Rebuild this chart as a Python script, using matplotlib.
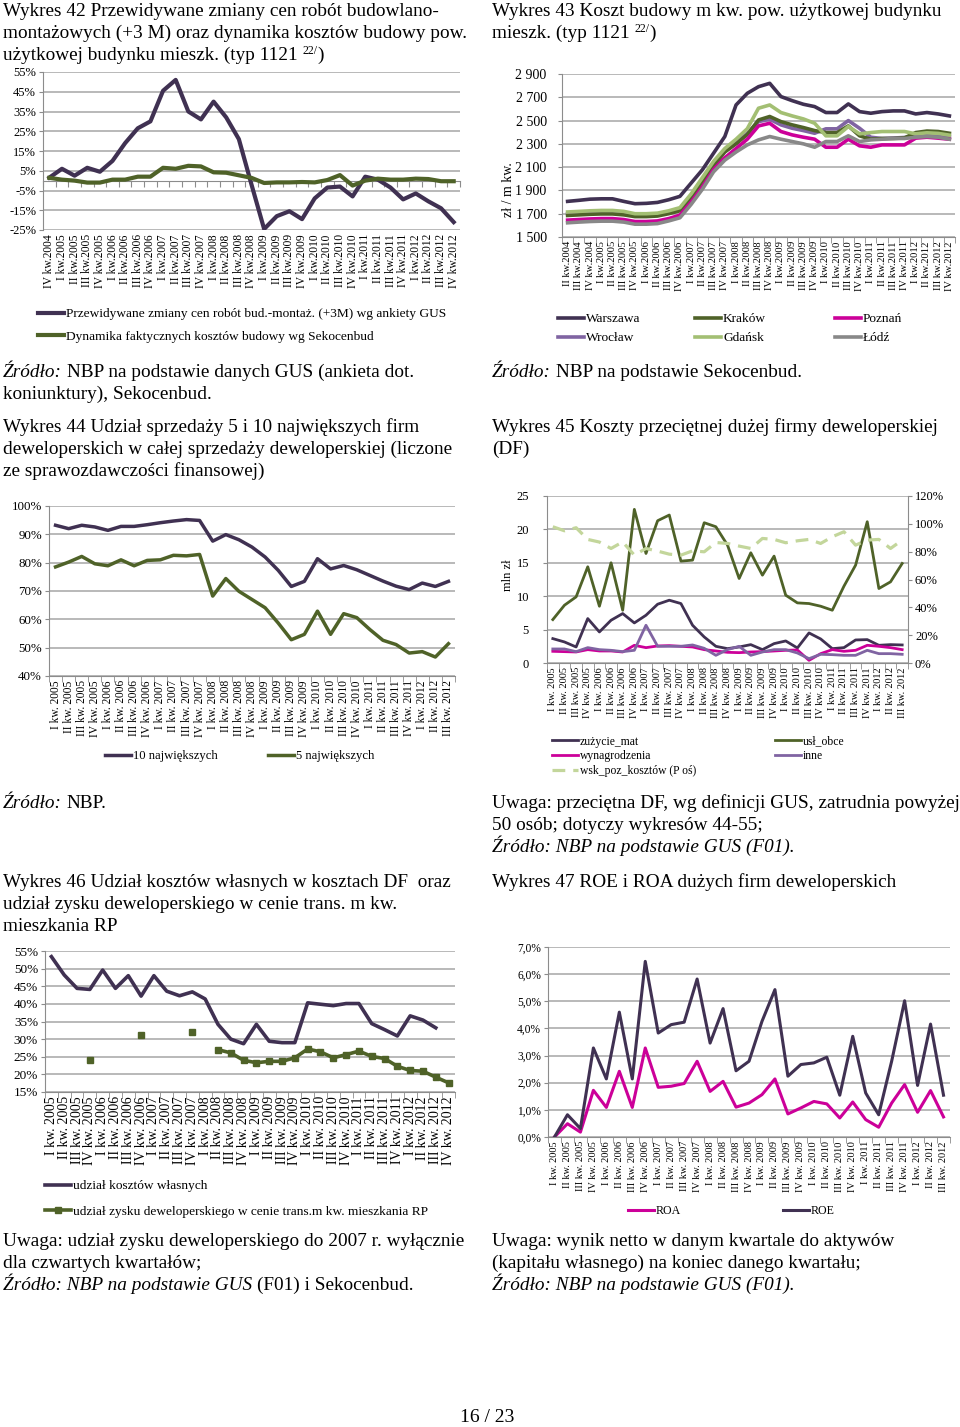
import numpy as np
import matplotlib
matplotlib.use('Agg')
import matplotlib.pyplot as plt
from matplotlib.ticker import FuncFormatter

plt.rcParams['font.family'] = ['Liberation Serif', 'DejaVu Serif']

W, H = 960, 1427

# ---------------- category labels ----------------
ROMAN = ['I', 'II', 'III', 'IV']


def quarters(q0, y0, q1, y1, sep):
    out = []
    y, q = y0, q0
    while (y, q) <= (y1, q1):
        out.append(f"{ROMAN[q - 1]} kw.{sep}{y}")
        q += 1
        if q > 4:
            q, y = 1, y + 1
    return out


cats42 = quarters(4, 2004, 4, 2012, '')
cats43 = quarters(2, 2004, 4, 2012, '')
cats44 = quarters(1, 2005, 3, 2012, ' ')
cats45 = quarters(1, 2005, 3, 2012, ' ')
cats46 = quarters(1, 2005, 4, 2012, ' ')
cats47 = quarters(1, 2005, 3, 2012, ' ')

# ---------------- data ----------------
# Wykres 42 (%)
gus_expected = [1.5, 6, 2.5, 6.5, 4.5, 10, 19, 26.5, 30, 45.5, 51, 35, 31, 40, 32, 21, -2,
                -24.5, -18, -15.5, -19.5, -9, -3.5, -3, -8, 2, 0.5, -3.5, -9.5, -6.5, -10.5, -14, -21]
sekocenbud_dyn = [1.4, 0.5, 0, -1, -1, 0.5, 0.5, 2, 2, 6.5, 6, 7.5, 7.2, 4.2, 4, 2.7, 1.4,
                  -1.2, -0.9, -0.9, -0.7, -0.9, 0.3, 2.8, -2.5, 0, 1, 0.5, 0.5, 1, 0.8, -0.3, -0.3]

# Wykres 43 (zł / m kw.)
warszawa = [1806, 1815, 1825, 1828, 1828, 1806, 1786, 1789, 1797, 1820, 1849, 1963, 2077, 2220, 2363,
            2634, 2734, 2791, 2820, 2706, 2671, 2640, 2620, 2569, 2569, 2643, 2577, 2563, 2577, 2583,
            2583, 2557, 2569, 2557, 2540]
krakow = [1685, 1690, 1695, 1698, 1698, 1690, 1675, 1675, 1680, 1700, 1725, 1840, 1975, 2110, 2230,
          2300, 2380, 2505, 2535, 2491, 2463, 2440, 2414, 2397, 2397, 2454, 2369, 2340, 2346, 2346,
          2351, 2397, 2410, 2406, 2391]
poznan = [1645, 1650, 1655, 1658, 1658, 1650, 1633, 1633, 1638, 1658, 1688, 1800, 1930, 2080, 2180,
          2260, 2340, 2454, 2477, 2406, 2377, 2357, 2340, 2271, 2271, 2340, 2283, 2271, 2291, 2291,
          2291, 2349, 2357, 2349, 2340]
wroclaw = [1700, 1705, 1710, 1712, 1712, 1705, 1688, 1688, 1693, 1712, 1738, 1845, 1980, 2115, 2235,
           2310, 2390, 2491, 2511, 2463, 2434, 2414, 2391, 2429, 2429, 2500, 2434, 2357, 2346, 2350,
           2355, 2365, 2370, 2368, 2360]
gdansk = [1715, 1720, 1725, 1728, 1728, 1720, 1700, 1700, 1705, 1725, 1752, 1870, 2010, 2150, 2260,
          2340, 2430, 2606, 2634, 2569, 2540, 2514, 2477, 2369, 2369, 2449, 2386, 2397, 2406, 2406,
          2406, 2386, 2395, 2390, 2375]
lodz = [1622, 1628, 1633, 1636, 1636, 1628, 1610, 1610, 1615, 1638, 1665, 1780, 1910, 2060, 2160,
        2230, 2291, 2334, 2363, 2340, 2320, 2300, 2271, 2320, 2320, 2369, 2320, 2334, 2340, 2346,
        2346, 2357, 2363, 2357, 2340]

# Wykres 44 (%)
top10 = [93.2, 92, 93.2, 92.6, 91.4, 92.8, 92.8, 93.4, 94.1, 94.7, 95.2, 94.9, 87.6, 89.9, 88.1, 85.5,
         82, 77.3, 71.6, 73.4, 81.4, 77.8, 79, 77.5, 75.5, 73.5, 71.7, 70.5, 72.8, 71.6, 73.4]
top5 = [78.5, 80.2, 82.2, 79.6, 78.9, 81, 78.9, 80.8, 81, 82.6, 82.4, 82.9, 68.2, 74.4, 69.9, 67,
        64.1, 58.7, 52.8, 54.7, 62.9, 54.7, 62, 60.6, 56.4, 52.6, 51.1, 48.1, 48.6, 46.7, 51.4]

# Wykres 45 (mln zł, right axis %)
zuzycie_mat = [3.65, 3.15, 2.4, 6.65, 4.65, 6.4, 7.4, 6, 7.15, 8.8, 9.4, 8.9, 5.65, 3.9, 2.5, 2.15,
               2.4, 2.75, 2.0, 2.9, 3.3, 2.25, 4.5, 3.6, 2.15, 2.3, 3.45, 3.5, 2.65, 2.75, 2.7]
usl_obce = [6.5, 8.65, 9.9, 14.4, 8.5, 15, 7.9, 23, 16.4, 21.3, 22.15, 15.25, 15.4, 21, 20.4, 17.65,
            12.65, 16.5, 13.15, 16, 10.15, 9, 8.9, 8.5, 7.9, 11.5, 14.65, 21.15, 11.15, 12.15, 14.9]
wynagrodzenia = [1.75, 1.7, 1.65, 2.0, 1.8, 1.8, 1.65, 2.65, 2.3, 2.55, 2.6, 2.5, 2.4, 2.0, 1.8, 1.6,
                 1.55, 1.65, 1.7, 1.8, 1.9, 1.95, 0.4, 1.4, 2.0, 1.75, 1.9, 2.65, 2.5, 2.3, 2.0]
inne = [2.1, 2.1, 1.7, 2.3, 2.0, 1.9, 1.7, 1.9, 5.65, 2.5, 2.5, 2.5, 2.7, 2.2, 1.15, 2.0, 2.5, 1.15,
        1.65, 2.0, 2.0, 1.5, 0.65, 1.3, 1.25, 1.15, 1.15, 1.9, 1.4, 1.4, 1.3]
wsk_poz_kosztow = [97.9, 95, 97.2, 88.8, 86.9, 82.3, 87, 77.5, 82.3, 80.4, 78.2, 77.5, 80.6, 79.9,
                   86.6, 85.9, 84, 82.3, 89.5, 88.8, 86.4, 87.8, 88.8, 85.9, 90.7, 94.3, 84.7, 88.3,
                   88.8, 82.3, 88.3]

# Wykres 46 (%)
NA = np.nan
koszty_wlasne = [53.4, 48.2, 44.4, 44.1, 49.6, 44.4, 48, 42.2, 48, 43.6, 42.3, 43.4, 41.4, 34.2, 30,
                 28.7, 34.2, 29.4, 29, 29, 40.3, 39.9, 39.5, 40.1, 40.1, 34.4, 32.7, 30.9, 36.6, 35.4,
                 33.2, NA]
zysk_dewel = [NA, NA, NA, 24, NA, NA, NA, 31.1, NA, NA, NA, 32.1, NA, 27, 26.1, 24, 23.3, 23.7,
              23.7, 24.7, 27.2, 26.4, 24.7, 25.6, 26.6, 25.1, 24.5, 22.3, 21.1, 20.9, 19.2, 17.6]

# Wykres 47 (%)
roe = [0, 0.82, 0.31, 3.28, 2.14, 4.6, 2.14, 6.47, 3.83, 4.14, 4.23, 5.82, 3.46, 4.73, 2.44, 2.79,
       4.26, 5.43, 2.24, 2.67, 2.73, 2.94, 1.54, 3.71, 1.62, 0.82, 2.79, 5.02, 1.9, 4.16, 1.54]
roa = [0, 0.49, 0.18, 1.72, 1.09, 2.42, 1.09, 3.28, 1.83, 1.87, 1.97, 2.79, 1.68, 2.05, 1.1, 1.25,
       1.56, 2.14, 0.85, 1.07, 1.31, 1.22, 0.7, 1.29, 0.64, 0.36, 1.25, 1.93, 0.91, 1.71, 0.74]

# ---------------- style ----------------
PURPLE = '#403152'
GREEN = '#4F6228'
MAGENTA = '#CC0099'
LAVENDER = '#8064A2'
LIGHTGREEN = '#A3BF73'
GRAYL = '#888888'
DASHC = '#C3D69B'
GRID = '#A6A6A6'
AXC = '#8C8C8C'

fig = plt.figure(figsize=(W / 100, H / 100), dpi=100)
fig.patch.set_facecolor('white')
renderer = fig.canvas.get_renderer()


def add_ax(x0, y0, x1, y1):
    return fig.add_axes([x0 / W, 1 - y1 / H, (x1 - x0) / W, (y1 - y0) / H])


def style_ax(ax, cats, xfs, yfs, bottom=True):
    n = len(cats)
    ax.set_xlim(-0.5, n - 0.5)
    ax.set_xticks(np.arange(n))
    ax.set_xticklabels(cats, rotation=90, fontsize=xfs)
    ax.set_xticks(np.arange(-0.5, n, 1), minor=True)
    ax.tick_params(axis='x', which='major', length=0, pad=3)
    ax.tick_params(axis='x', which='minor', length=4 if bottom else 0, color=AXC)
    ax.tick_params(axis='y', length=3, color=AXC, labelsize=yfs, pad=2)
    ax.grid(axis='y', color=GRID, lw=1.1)
    ax.set_axisbelow(True)
    for s in ['top', 'right']:
        ax.spines[s].set_visible(False)
    ax.spines['left'].set_color(AXC)
    ax.spines['bottom'].set_color(AXC)
    if not bottom:
        ax.spines['bottom'].set_visible(False)
    ax.set_facecolor('none')


def text_w(s, fs, style='normal'):
    t = fig.text(0, 0, s, fontsize=fs, style=style)
    w = t.get_window_extent(renderer).width
    t.remove()
    return w


def rich(x, yb, parts, fs):
    """parts: (text, style, size, raise_px); yb = baseline in px from top"""
    sp = text_w('a a', fs) - text_w('aa', fs)
    for p in parts:
        s = p[0]
        st = p[1] if len(p) > 1 else 'normal'
        sz = p[2] if len(p) > 2 else fs
        dy = p[3] if len(p) > 3 else 0
        lead = len(s) - len(s.lstrip(' '))
        trail = len(s) - len(s.rstrip(' '))
        x += lead * sp
        core = s.strip(' ')
        t = fig.text(x / W, 1 - (yb - dy) / H, core, fontsize=sz, style=st,
                     va='baseline', ha='left')
        x += t.get_window_extent(renderer).width + trail * sp


def legend_at(handles, labels, x, ytop, fs, hl_px=26, lsp=0.4):
    fs_px = fs * 100 / 72
    fig.legend(handles, labels, loc='upper left', bbox_to_anchor=(x / W, 1 - ytop / H),
               frameon=False, fontsize=fs, borderpad=0, borderaxespad=0,
               handlelength=hl_px / fs_px, handletextpad=0.15, labelspacing=lsp)


TFS = 13.9  # body text size

# ================= Wykres 42 =================
rich(3, 16, [('Wykres 42 Przewidywane zmiany cen robót budowlano-',)], TFS)
rich(3, 38, [('montażowych (+3 M) oraz dynamika kosztów budowy pow.',)], TFS)
rich(3, 60, [('użytkowej budynku mieszk. (typ 1121 ',), ('22/', 'normal', 8.5, 6), (')',)], TFS)

ax = add_ax(43, 72, 460, 230)
x = np.arange(len(cats42))
l42a, = ax.plot(x, gus_expected, color=PURPLE, lw=3, solid_joinstyle='round')
l42b, = ax.plot(x, sekocenbud_dyn, color=GREEN, lw=3, solid_joinstyle='round')
style_ax(ax, cats42, 8.3, 9, bottom=False)
ax.set_ylim(-25, 55)
ax.set_yticks(np.arange(-25, 56, 10))
ax.yaxis.set_major_formatter(FuncFormatter(lambda v, p: f"{v:.0f}%"))
sec = ax.secondary_xaxis((0 - (-25)) / 80.0)
sec.set_xticks(np.arange(-0.5, len(cats42), 1))
sec.set_xticklabels([])
sec.tick_params(length=4, color=AXC)
for s in sec.spines.values():
    s.set_color(AXC)
legend_at([l42a, l42b],
          ['Przewidywane zmiany cen robót bud.-montaż. (+3M) wg ankiety GUS',
           'Dynamika faktycznych kosztów budowy wg Sekocenbud'], 38, 308, 9.6, lsp=0.75)

rich(3, 377, [('Źródło:', 'italic'), (' NBP na podstawie danych GUS (ankieta dot.',)], TFS)
rich(3, 399, [('koniunktury), Sekocenbud.',)], TFS)

# ================= Wykres 43 =================
rich(492, 16, [('Wykres 43 Koszt budowy m kw. pow. użytkowej budynku',)], TFS)
rich(492, 38, [('mieszk. (typ 1121 ',), ('22/', 'normal', 8.5, 6), (')',)], TFS)

ax = add_ax(562, 74, 955, 237)
x = np.arange(len(cats43))
kw = dict(lw=2.6, solid_joinstyle='round')
lw_, = ax.plot(x, warszawa, color=PURPLE, **kw)
lwr, = ax.plot(x, wroclaw, color=LAVENDER, **kw)
lkr, = ax.plot(x, krakow, color=GREEN, **kw)
lgd, = ax.plot(x, gdansk, color=LIGHTGREEN, **kw)
lpz, = ax.plot(x, poznan, color=MAGENTA, **kw)
llo, = ax.plot(x, lodz, color=GRAYL, **kw)
style_ax(ax, cats43, 7.6, 10)
ax.set_ylim(1500, 2900)
ax.set_yticks(np.arange(1500, 2901, 200))
ax.yaxis.set_major_formatter(FuncFormatter(lambda v, p: f"{int(v) // 1000} {int(v) % 1000:03d}"))
ax.tick_params(axis='y', pad=8)
fig.text(508 / W, 1 - 190 / H, 'zł / m kw.', rotation=90, fontsize=10, ha='center', va='center')
legend_at([lw_, lwr], ['Warszawa', 'Wrocław'], 558, 313, 9.6, lsp=0.5)
legend_at([lkr, lgd], ['Kraków', 'Gdańsk'], 695, 313, 9.6, lsp=0.5)
legend_at([lpz, llo], ['Poznań', 'Łódź'], 835, 313, 9.6, lsp=0.5)

rich(492, 377, [('Źródło:', 'italic'), (' NBP na podstawie Sekocenbud.',)], TFS)

# ================= Wykres 44 =================
rich(3, 432, [('Wykres 44 Udział sprzedaży 5 i 10 największych firm',)], TFS)
rich(3, 454, [('deweloperskich w całej sprzedaży deweloperskiej (liczone',)], TFS)
rich(3, 476, [('ze sprawozdawczości finansowej)',)], TFS)

ax = add_ax(49, 506, 455, 676)
x = np.arange(len(cats44))
l44a, = ax.plot(x, top10, color=PURPLE, lw=2.5, solid_joinstyle='round')
l44b, = ax.plot(x, top5, color=GREEN, lw=2.5, solid_joinstyle='round')
style_ax(ax, cats44, 8.3, 9.3)
ax.set_ylim(40, 100)
ax.set_yticks(np.arange(40, 101, 10))
ax.yaxis.set_major_formatter(FuncFormatter(lambda v, p: f"{v:.0f}%"))
legend_at([l44a], ['10 największych'], 105, 750, 9.1)
legend_at([l44b], ['5 największych'], 268, 750, 9.1)

rich(3, 808, [('Źródło:', 'italic'), (' NBP.',)], TFS)

# ================= Wykres 45 =================
rich(492, 432, [('Wykres 45 Koszty przeciętnej dużej firmy deweloperskiej',)], TFS)
rich(492, 454, [('(DF)',)], TFS)

ax = add_ax(547, 496, 908, 663)
x = np.arange(len(cats45))
kw = dict(lw=2.0, solid_joinstyle='round')
l45u, = ax.plot(x, usl_obce, color=GREEN, **kw)
l45z, = ax.plot(x, zuzycie_mat, color=PURPLE, **kw)
l45w, = ax.plot(x, wynagrodzenia, color=MAGENTA, **kw)
l45i, = ax.plot(x, inne, color=LAVENDER, **kw)
style_ax(ax, cats45, 7.4, 9)
ax.set_ylim(0, 25)
ax.set_yticks(np.arange(0, 26, 5))
ax.tick_params(axis='y', pad=10)
ax2 = ax.twinx()
l45k, = ax2.plot(x, np.array(wsk_poz_kosztow) / 100, color=DASHC, lw=2.3, ls=(0, (4, 2.5)))
ax2.set_ylim(0, 1.2)
ax2.set_yticks(np.arange(0, 1.21, 0.2))
ax2.yaxis.set_major_formatter(FuncFormatter(lambda v, p: f"{v * 100:.0f}%"))
ax2.tick_params(axis='y', length=3, color=AXC, labelsize=9, pad=2)
for s in ['top', 'left', 'bottom']:
    ax2.spines[s].set_visible(False)
ax2.spines['right'].set_color(AXC)
fig.text(508 / W, 1 - 575 / H, 'mln zł', rotation=90, fontsize=9, ha='center', va='center')
legend_at([l45z, l45w, l45k], ['zużycie_mat', 'wynagrodzenia', 'wsk_poz_kosztów (P oś)'],
          552, 735.5, 8.4, lsp=0.22)
legend_at([l45u, l45i], ['usł_obce', 'inne'], 775, 735.5, 8.4, lsp=0.22)

rich(492, 808, [('Uwaga: przeciętna DF, wg definicji GUS, zatrudnia powyżej',)], TFS)
rich(492, 830, [('50 osób; dotyczy wykresów 44-55;',)], TFS)
rich(492, 852, [('Źródło: NBP na podstawie GUS (F01).', 'italic')], TFS)

# ================= Wykres 46 =================
rich(3, 887, [('Wykres 46 Udział kosztów własnych w kosztach DF  oraz',)], TFS)
rich(3, 909, [('udział zysku deweloperskiego w cenie trans. m kw.',)], TFS)
rich(3, 931, [('mieszkania RP',)], TFS)

ax = add_ax(45, 951, 455, 1092)
x = np.arange(len(cats46))
l46a, = ax.plot(x, koszty_wlasne, color=PURPLE, lw=2.6, solid_joinstyle='round')
l46b, = ax.plot(x, zysk_dewel, color=GREEN, lw=2.6, marker='s', ms=4.5, solid_joinstyle='round')
style_ax(ax, cats46, 10, 9.5)
ax.set_ylim(15, 55)
ax.set_yticks(np.arange(15, 56, 5))
ax.yaxis.set_major_formatter(FuncFormatter(lambda v, p: f"{v:.0f}%"))
legend_at([l46a, l46b], ['udział kosztów własnych',
                         'udział zysku deweloperskiego w cenie trans.m kw. mieszkania RP'],
          45, 1180, 9.6, lsp=1.0)

rich(3, 1246, [('Uwaga: udział zysku deweloperskiego do 2007 r. wyłącznie',)], TFS)
rich(3, 1268, [('dla czwartych kwartałów;',)], TFS)
rich(3, 1290, [('Źródło: NBP na podstawie GUS', 'italic'), (' (F01) i Sekocenbud.',)], TFS)

# ================= Wykres 47 =================
rich(492, 887, [('Wykres 47 ROE i ROA dużych firm deweloperskich',)], TFS)

ax = add_ax(548, 947, 950, 1137)
x = np.arange(len(cats47))
l47a, = ax.plot(x, [v / 100 for v in roa], color=MAGENTA, lw=2.2, solid_joinstyle='round')
l47b, = ax.plot(x, [v / 100 for v in roe], color=PURPLE, lw=2.2, solid_joinstyle='round')
style_ax(ax, cats47, 7.4, 8.3)
ax.set_ylim(0, 0.07)
ax.set_yticks(np.arange(0, 0.0701, 0.01))
ax.yaxis.set_major_formatter(FuncFormatter(lambda v, p: f"{v * 100:.1f}%".replace('.', ',')))
legend_at([l47a], ['ROA'], 628, 1205, 8.6)
legend_at([l47b], ['ROE'], 783, 1205, 8.6)

rich(492, 1246, [('Uwaga: wynik netto w danym kwartale do aktywów',)], TFS)
rich(492, 1268, [('(kapitału własnego) na koniec danego kwartału;',)], TFS)
rich(492, 1290, [('Źródło: NBP na podstawie GUS (F01).', 'italic')], TFS)

fig.text(487 / W, 1 - 1418 / H, '16 / 23', fontsize=14, ha='center', va='center')

fig.savefig('out.png', dpi=100, facecolor='white')
